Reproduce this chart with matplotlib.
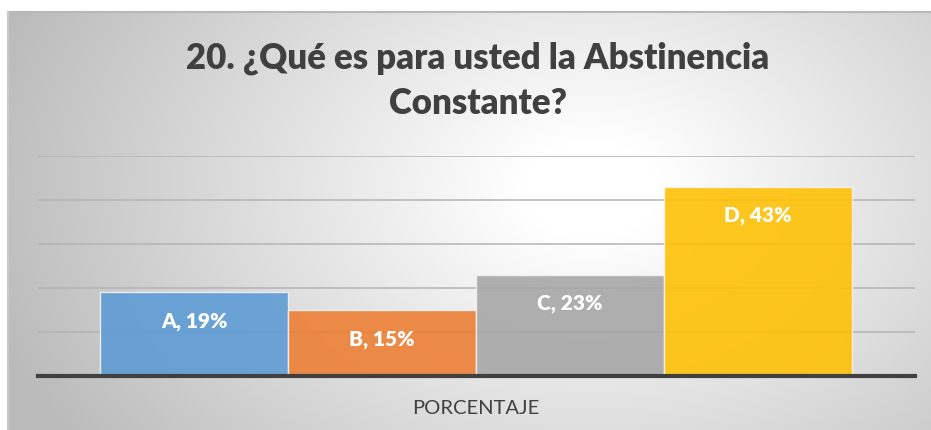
import numpy as np
import matplotlib
matplotlib.use("Agg")
import matplotlib.pyplot as plt

categories = ["A", "B", "C", "D"]
values = [19, 15, 23, 43]
colors = ["#5B9BD5", "#ED7D31", "#A5A5A5", "#FFC000"]
yticks = [0, 10, 20, 30, 40, 50]
xlabel = "PORCENTAJE"
title = "20. ¿Qué es para usted la Abstinencia\nConstante?"

W, H = 931, 430
fig = plt.figure(figsize=(W / 100, H / 100), dpi=100)
fig.patch.set_facecolor("white")
plt.rcParams["font.family"] = ["Lato", "DejaVu Sans"]

# background panel with radial gradient
x0, y0 = 8, 12
bg = fig.add_axes([x0 / W, 0, 1 - x0 / W, (H - y0) / H])
bw, bh = W - x0, H - y0
xx, yy = np.meshgrid(np.arange(bw) + x0, np.arange(bh) + y0)
cx, cy, rx, ry = 590, 190, 560, 400
d = np.sqrt(((xx - cx) / rx) ** 2 + ((yy - cy) / ry) ** 2)
val = (255 - 60 * np.clip((d - 0.12) / 0.88, 0, 1.15)) / 255
img = np.dstack([val, val, val])
bg.imshow(img, aspect="auto", extent=[0, 1, 0, 1], origin="upper")
bg.set_xlim(0, 1)
bg.set_ylim(0, 1)
bg.axis("off")
bg.plot([0, 1], [1, 1], color="#b8b8b8", lw=1.5, transform=bg.transAxes, clip_on=False)
bg.plot([0, 0], [0, 1], color="#c8c8c8", lw=1.5, transform=bg.transAxes, clip_on=False)

# main axes
left, right = 38, 915
base_y, top_y = 376, 156
ax = fig.add_axes([left / W, (H - base_y) / H, (right - left) / W, (base_y - top_y) / H])
ax.patch.set_alpha(0)
x = np.arange(len(categories))
ax.set_xlim(-0.5 - 0.33, len(categories) - 0.5 + 0.335)
ax.set_ylim(0, 50)
for t in yticks[1:]:
    ax.axhline(t, color="#b4b4b4", lw=1.1, zorder=1)
bars = ax.bar(x, values, width=1.0, color=colors, alpha=0.88, edgecolor="#f4f4f4", linewidth=1.0, zorder=2)
for xi, c, v in zip(x, categories, values):
    ax.annotate(f"{c}, {v}%", xy=(xi, v), xytext=(0, -21), textcoords="offset points",
                ha="center", va="center", color="white", fontsize=15, fontweight="heavy", zorder=4)
ax.axhline(0, color="#404040", lw=3, zorder=3, clip_on=False)
for s in ax.spines.values():
    s.set_visible(False)
ax.set_xticks([])
ax.set_yticks([])

fig.text(478 / W, 1 - 81 / H, title, ha="center", va="center", fontsize=25, fontweight="heavy",
         color="#404040", linespacing=1.45)
fig.text(476 / W, 1 - 408 / H, xlabel, ha="center", va="center", fontsize=14.5, color="#404040")

fig.savefig("out.png", dpi=100)
